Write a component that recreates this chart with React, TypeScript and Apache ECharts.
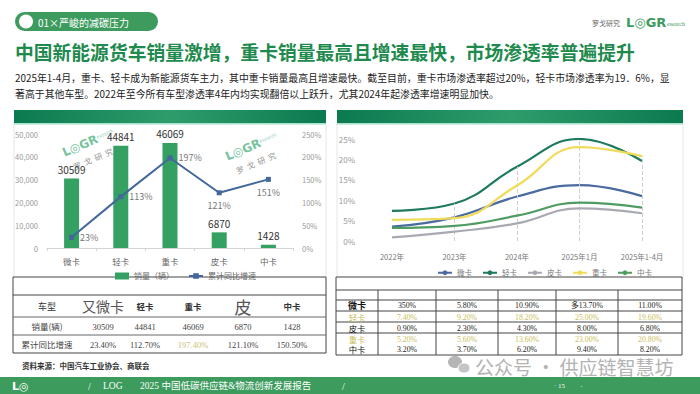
import React, { useEffect, useRef } from "react";
import * as echarts from "echarts";

// ---------- data ----------
const barCategories = ["微卡", "轻卡", "重卡", "皮卡", "中卡"];
const salesValues = [30509, 44841, 46069, 6870, 1428];
const growthValues = [23.4, 112.7, 197.4, 121.1, 150.5];
const growthLabelPos = ["right", "right", "right", "bottom", "bottom"];
const salesTicks = [0, 50000, 10000];
const growthTicks = [0, 250, 50];

const yearCategories = ["2022年", "2023年", "2024年", "2025年1月", "2025年1-4月"];
const weiKa = [3.5, 5.8, 10.9, 13.7, 11.0];
const qingKa = [7.4, 9.2, 18.2, 25.0, 19.6];
const piKa = [0.9, 2.3, 4.3, 8.0, 6.8];
const zhongKa = [5.2, 5.6, 13.6, 23.0, 20.8];
const midKa = [3.2, 3.7, 6.2, 9.4, 8.2];
const penetrationTicks = [0, 25, 5];

const leftTableHeader = ["车型", "又微卡", "轻卡", "重卡", "皮", "中卡"];
const leftTableRowNames = ["销量(辆)", "累计同比增速"];
const rightTableRowNames = ["微卡", "轻卡", "皮卡", "重卡", "中卡"];
const weiKaTableText = ["350%", "5.80%", "10.90%", "多13.70%", "11.00%"];

const SANS = "'Noto Sans CJK SC', 'Noto Sans', sans-serif";
const SERIF = "'Liberation Serif', 'DejaVu Serif', 'Noto Sans CJK SC', serif";

function txt(x: number, y: number, text: string, s: any = {}, extra: any = {}) {
  const align = s.align || "left";
  const valign = s.valign || "middle";
  return {
    type: "text",
    x,
    y,
    silent: true,
    ...extra,
    style: {
      text,
      fill: s.fill || "#333",
      fontSize: s.fontSize || 10,
      fontFamily: s.fontFamily || SANS,
      fontWeight: s.fontWeight || "normal",
      opacity: s.opacity == null ? 1 : s.opacity,
      align,
      textAlign: align,
      verticalAlign: valign,
      textVerticalAlign: valign,
    },
  };
}
function rect(x: number, y: number, w: number, h: number, style: any, r: any = 0) {
  return { type: "rect", silent: true, shape: { x, y, width: w, height: h, r }, style };
}
function hline(x1: number, x2: number, y: number, stroke = "#444", lw = 1) {
  return { type: "line", silent: true, shape: { x1, y1: y, x2, y2: y }, style: { stroke, lineWidth: lw } };
}
function vline(x: number, y1: number, y2: number, stroke = "#444", lw = 1) {
  return { type: "line", silent: true, shape: { x1: x, y1, x2: x, y2 }, style: { stroke, lineWidth: lw } };
}
const pct = (v: number) => v.toFixed(2) + "%";

function buildGraphics() {
  const g: any[] = [];
  // header pill
  g.push(rect(15, 12, 143, 19, { fill: "#3d9b5e" }, 9.5));
  g.push({ type: "circle", silent: true, shape: { cx: 26, cy: 21.5, r: 7 }, style: { fill: "#ffffff" } });
  g.push(txt(38, 22, "01×严峻的减碳压力", { fill: "#ffffff", fontSize: 10 }));
  // top-right logo
  g.push(txt(592, 23, "罗戈研究", { fill: "#666", fontSize: 7 }));
  g.push(txt(626, 22, "L◎GR", { fill: "#3d9b5e", fontSize: 13, fontWeight: "bold", fontFamily: "'DejaVu Sans', sans-serif" }));
  g.push(txt(667, 24, "esearch", { fill: "#3d9b5e", fontSize: 6, fontFamily: SERIF }));
  // title
  g.push(txt(15, 51, "中国新能源货车销量激增，重卡销量最高且增速最快，市场渗透率普遍提升", { fill: "#1e8a4e", fontSize: 18.8, fontWeight: "bold" }));
  // paragraph
  g.push(txt(15, 78, "2025年1-4月，重卡、轻卡成为新能源货车主力，其中重卡销量最高且增速最快。截至目前，重卡市场渗透率超过20%，轻卡市场渗透率为19．6%，显", { fill: "#222", fontSize: 9.9 }));
  g.push(txt(15, 94, "著高于其他车型。2022年至今所有车型渗透率4年内均实现翻倍以上跃升，尤其2024年起渗透率增速明显加快。", { fill: "#222", fontSize: 9.9 }));

  // panels
  const mkGrad = () =>
    new echarts.graphic.LinearGradient(0, 0, 1, 0, [
      { offset: 0, color: "#0c7a4f" },
      { offset: 0.5, color: "#2f9c6c" },
      { offset: 1, color: "#0c7a4f" },
    ]);
  g.push(rect(14, 124, 312, 154, { fill: "#ffffff", stroke: "#e6e6e6", lineWidth: 1 }));
  g.push(rect(337, 124, 346, 154, { fill: "#ffffff", stroke: "#e6e6e6", lineWidth: 1 }));
  g.push(rect(14, 110, 312, 14, { fill: mkGrad() }));
  g.push(rect(337, 110, 346, 14, { fill: mkGrad() }));
  g.push(rect(14, 123, 312, 1.5, { fill: "#a6e4cf" }));
  g.push(rect(337, 123, 346, 1.5, { fill: "#a6e4cf" }));

  // watermark wechat (behind tables)
  g.push({ type: "ellipse", silent: true, shape: { cx: 455, cy: 362, rx: 7, ry: 6 }, style: { fill: "#b5b5b5" } });
  g.push({ type: "ellipse", silent: true, shape: { cx: 464, cy: 368, rx: 6, ry: 5 }, style: { fill: "#c5c5c5", stroke: "#ffffff", lineWidth: 1 } });
  g.push(txt(475, 366, "公众号 · 供应链智慧坊", { fill: "#b3b3b3", fontSize: 19 }));

  // ---- left table ----
  g.push(rect(13, 277, 313, 76, { fill: "#ffffff", stroke: "#444", lineWidth: 1 }));
  g.push(hline(13, 326, 295));
  g.push(hline(13, 326, 317, "#666"));
  g.push(hline(13, 326, 335, "#666"));
  const lcols = [47, 103, 145, 193, 243, 292];
  const headerSizes = [9, 14, 8.5, 8.5, 17, 8.5];
  leftTableHeader.forEach((h, i) => {
    g.push(txt(lcols[i], 306, h, { align: "center", fontSize: headerSizes[i], fill: i === 1 || i === 4 ? "#555" : "#333", fontWeight: i >= 2 && i !== 4 ? "bold" : "normal" }));
  });
  g.push(txt(lcols[0], 326, leftTableRowNames[0], { align: "center", fontSize: 8.5, fill: "#444" }));
  g.push(txt(lcols[0], 344, leftTableRowNames[1], { align: "center", fontSize: 8.5, fill: "#444" }));
  salesValues.forEach((v, i) => {
    g.push(txt(lcols[i + 1], 327, String(v), { align: "center", fontSize: 8.5, fill: "#444", fontFamily: SERIF }));
  });
  growthValues.forEach((v, i) => {
    g.push(txt(lcols[i + 1], 345, pct(v), { align: "center", fontSize: 8.5, fill: i === 2 ? "#c9c27a" : "#444", fontFamily: SERIF }));
  });

  // ---- right table ----
  g.push(rect(336, 277, 346, 78, { fill: "#ffffff", stroke: "#444", lineWidth: 1 }));
  g.push(hline(336, 682, 290));
  [300, 311, 322, 333].forEach((y) => g.push(hline(336, 682, y)));
  [378, 436, 498, 556, 618].forEach((x) => g.push(vline(x, 290, 355)));
  const rcols = [407, 467, 527, 587, 650];
  const rowYs = [305.2, 316.7, 327.5, 338.5, 349];
  const rowData = [weiKaTableText, qingKa.map(pct), piKa.map(pct), zhongKa.map(pct), midKa.map(pct)];
  const yellow = "#c9bd5e";
  rightTableRowNames.forEach((n, r) => {
    const isY = r === 1 || r === 3;
    g.push(txt(357, rowYs[r], n, { align: "center", fontSize: r === 0 ? 9 : 8.3, fill: isY ? yellow : "#111", fontWeight: r === 0 ? "bold" : "normal" }));
    rowData[r].forEach((t, c) => {
      g.push(txt(rcols[c], rowYs[r] + 0.5, t, { align: "center", fontSize: 7.8, fill: isY ? yellow : "#222", fontFamily: SERIF }));
    });
  });

  // source
  g.push(txt(22, 365, "资料来源：中国汽车工业协会、商联会", { fill: "#333", fontSize: 7.5, fontWeight: "bold" }));

  // footer
  g.push(rect(0, 377, 700, 17, { fill: "#3c9b5d" }));
  g.push(txt(12, 386, "L◎", { fill: "#ffffff", fontSize: 11, fontWeight: "bold", fontFamily: "'DejaVu Sans', sans-serif" }));
  g.push(txt(88, 386, "/", { fill: "#ffffff", fontSize: 10, fontFamily: SERIF }));
  g.push(txt(103, 386, "LOG", { fill: "#ffffff", fontSize: 9.5, fontFamily: SERIF }));
  g.push(txt(140, 386, "2025 中国低碳供应链&物流创新发展报告", { fill: "#ffffff", fontSize: 9.5, fontFamily: SERIF }));
  g.push(txt(342, 386, "/", { fill: "#ffffff", fontSize: 10, fontFamily: SERIF }));
  g.push(txt(554, 386, "· 15", { fill: "#ffffff", fontSize: 7, fontFamily: SERIF }));
  g.push(txt(580, 386, "·", { fill: "#ffffff", fontSize: 8, fontFamily: SERIF }));

  // watermarks in left chart (drawn on top)
  const wm = (x: number, y: number) => ({
    type: "group",
    x,
    y,
    rotation: 0.4,
    z: 100,
    silent: true,
    children: [
      txt(0, 0, "L◎GR", { fill: "#5cb88c", fontSize: 12, fontWeight: "bold", fontFamily: "'DejaVu Sans', sans-serif", opacity: 0.85 }),
      txt(37, -2, "esearch", { fill: "#7cc8a4", fontSize: 5, opacity: 0.8 }),
      txt(4, 17, "罗  戈  研  究", { fill: "#777", fontSize: 8, opacity: 0.8 }),
    ],
  });
  g.push(wm(63, 153));
  g.push(wm(226, 157));
  return g;
}

export default function App() {
  const ref = useRef<HTMLDivElement>(null);
  useEffect(() => {
    if (!ref.current) return;
    const chart = echarts.init(ref.current, undefined, { renderer: "svg" });
    const axisLabelGray = { color: "#9a9a9a", fontSize: 7.5, fontFamily: SANS };
    const lineSeries = [
      { name: "微卡", data: weiKa, color: "#4b6aa0" },
      { name: "轻卡", data: qingKa, color: "#1d7a5c" },
      { name: "皮卡", data: piKa, color: "#a9a9b4" },
      { name: "重卡", data: zhongKa, color: "#f1db5a" },
      { name: "中卡", data: midKa, color: "#4f9c62" },
    ];
    const maxPerCat = yearCategories.map((_, i) => Math.max(...lineSeries.map((s) => s.data[i])));
    const option: any = {
      animation: false,
      backgroundColor: "#ffffff",
      textStyle: { fontFamily: SANS },
      grid: [
        { left: 47, top: 134, width: 246, height: 114 },
        { left: 392, top: 139, width: 250, height: 102 },
      ],
      legend: [
        {
          left: 110,
          top: 267,
          itemWidth: 14,
          itemHeight: 7,
          itemGap: 14,
          textStyle: { color: "#666", fontSize: 8 },
          data: [{ name: "销量（辆）", icon: "rect" }, { name: "累计同比增速" }],
        },
        {
          left: 432,
          top: 264,
          itemWidth: 14,
          itemHeight: 6,
          itemGap: 10,
          textStyle: { color: "#777", fontSize: 7.5 },
          data: lineSeries.map((s) => s.name),
        },
      ],
      xAxis: [
        {
          type: "category",
          gridIndex: 0,
          data: barCategories,
          axisLine: { lineStyle: { color: "#d4d4d4" } },
          axisTick: { show: true, length: 3, lineStyle: { color: "#d4d4d4" } },
          axisLabel: { color: "#666", fontSize: 8.5, margin: 9 },
        },
        {
          type: "category",
          gridIndex: 1,
          data: yearCategories,
          boundaryGap: false,
          axisLine: { show: false },
          axisTick: { show: false },
          axisLabel: { color: "#777", fontSize: 7.5, margin: 12 },
        },
      ],
      yAxis: [
        {
          type: "value",
          gridIndex: 0,
          min: salesTicks[0],
          max: salesTicks[1],
          interval: salesTicks[2],
          splitLine: { show: false },
          axisLine: { show: false },
          axisLabel: { ...axisLabelGray, margin: 9 },
        },
        {
          type: "value",
          gridIndex: 0,
          position: "right",
          min: growthTicks[0],
          max: growthTicks[1],
          interval: growthTicks[2],
          splitLine: { show: false },
          axisLine: { show: false },
          axisLabel: { ...axisLabelGray, margin: 9, formatter: "{value}%" },
        },
        {
          type: "value",
          gridIndex: 1,
          min: penetrationTicks[0],
          max: penetrationTicks[1],
          interval: penetrationTicks[2],
          splitLine: { show: false },
          axisLine: { show: false },
          axisLabel: { ...axisLabelGray, fontSize: 8, margin: 37, formatter: "{value}%" },
        },
      ],
      series: [
        {
          name: "销量（辆）",
          type: "bar",
          xAxisIndex: 0,
          yAxisIndex: 0,
          data: salesValues,
          barWidth: 15,
          itemStyle: { color: "#34a062" },
          label: { show: true, position: "top", distance: 4, color: "#333", fontSize: 10 },
        },
        {
          name: "累计同比增速",
          type: "line",
          xAxisIndex: 0,
          yAxisIndex: 1,
          data: growthValues.map((v, i) => ({
            value: v,
            label: { position: growthLabelPos[i] },
          })),
          symbol: "rect",
          symbolSize: 5,
          itemStyle: { color: "#44679c" },
          lineStyle: { color: "#44679c", width: 2 },
          label: {
            show: true,
            color: "#777",
            fontSize: 9,
            distance: 6,
            formatter: (p: any) => Math.round(p.value) + "%",
          },
          z: 5,
        },
        ...lineSeries.map((s, idx) => ({
          name: s.name,
          type: "line",
          xAxisIndex: 1,
          yAxisIndex: 2,
          data: s.data,
          smooth: 0.45,
          symbol: "none",
          itemStyle: { color: s.color },
          lineStyle: { color: s.color, width: 2.2 },
          z: 3 + idx,
          markLine:
            idx === 0
              ? {
                  silent: true,
                  symbol: "none",
                  label: { show: false },
                  lineStyle: { type: "dashed", color: "#cfcfcf", width: 1 },
                  data: yearCategories.slice(1).map((c, j) => [
                    { coord: [c, 0] },
                    { coord: [c, maxPerCat[j + 1]] },
                  ]),
                }
              : undefined,
        })),
      ],
      graphic: { elements: buildGraphics() },
    };
    chart.setOption(option);
    return () => chart.dispose();
  }, []);
  return (
    <div
      ref={ref}
      style={{ position: "fixed", left: 0, top: 0, width: 700, height: 394, background: "#fff" }}
    />
  );
}
